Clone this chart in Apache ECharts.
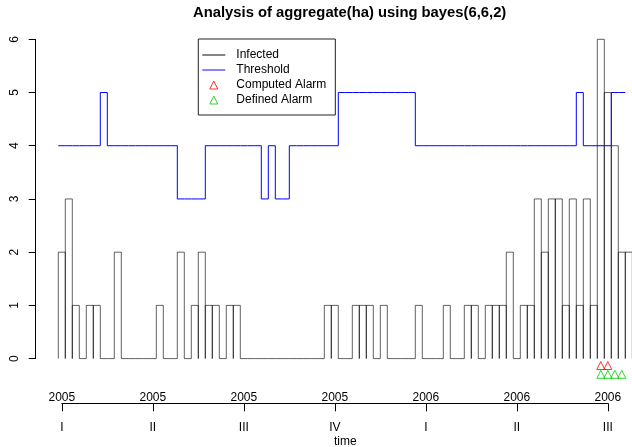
<!DOCTYPE html>
<html>
<head>
<meta charset="utf-8">
<script src="https://cdn.jsdelivr.net/npm/echarts@6/dist/echarts.min.js"></script>
<style>
html,body{margin:0;padding:0;background:#fff;}
#c{width:632px;height:447px;}
</style>
</head>
<body>
<div id="c"></div>
<script>
// ---- data ----
const infected = [2,3,1,0,1,1,0,0,2,0,
                  0,0,0,0,1,0,0,2,0,1,
                  2,1,1,0,1,1,0,0,0,0,
                  0,0,0,0,0,0,0,0,1,1,
                  0,0,1,1,1,0,1,0,0,0,
                  0,1,0,0,0,1,0,0,1,1,
                  0,1,1,1,2,0,1,1,3,2,
                  3,3,1,3,1,3,1,6,5,4,
                  2,2];
const threshold = [4,4,4,4,4,4,5,4,4,4,
                   4,4,4,4,4,4,4,3,3,3,
                   3,4,4,4,4,4,4,4,4,3,
                   4,3,3,4,4,4,4,4,4,4,
                   5,5,5,5,5,5,5,5,5,5,
                   5,4,4,4,4,4,4,4,4,4,
                   4,4,4,4,4,4,4,4,4,4,
                   4,4,4,4,5,4,4,4,4,5,
                   5,5];
const weeks = infected.map((_, k) => k + 1);
const computedAlarmWeeks = [78, 79];
const definedAlarmWeeks = [78, 79, 80, 81];
const computedAlarmLevel = -0.13;
const definedAlarmLevel = -0.295;
const tickWeeks = [1, 14, 27, 40, 53, 66, 79];
const tickYears = ['2005','2005','2005','2005','2006','2006','2006'];
const tickQuarters = ['I','II','III','IV','I','II','III'];
const yTicks = [0,1,2,3,4,5,6];

const FONT = '"Liberation Sans", Arial, Helvetica, sans-serif';
const chart = echarts.init(document.getElementById('c'), null, {renderer: 'canvas'});
const TRI = 'path://M0,1L0.5,0L1,1Z';
const LINE = 'path://M0,0H24V1H0Z';

const option = {
  animation: false,
  backgroundColor: '#ffffff',
  textStyle: {fontFamily: FONT, color: '#000'},
  title: {
    text: 'Analysis of aggregate(ha) using bayes(6,6,2)',
    left: 188, top: 0,
    textStyle: {fontSize: 14.8, fontWeight: 'bold', color: '#000', fontFamily: FONT}
  },
  legend: {
    orient: 'vertical',
    left: 198.3, top: 39,
    padding: [8.5, 9, 7.5, 4],
    itemGap: 0,
    itemWidth: 23, itemHeight: 8,
    borderColor: '#222', borderWidth: 1,
    selectedMode: false,
    textStyle: {fontSize: 12, color: '#000', lineHeight: 15, padding: [0,0,0,6], fontFamily: FONT},
    data: [
      {name: 'Infected', icon: LINE, itemStyle: {color: '#000', borderWidth: 0}},
      {name: 'Threshold', icon: LINE, itemStyle: {color: '#0000ff', borderWidth: 0}},
      {name: 'Computed Alarm', icon: TRI, itemStyle: {color: 'rgba(0,0,0,0)', borderColor: '#ff0000', borderWidth: 1}},
      {name: 'Defined Alarm', icon: TRI, itemStyle: {color: 'rgba(0,0,0,0)', borderColor: '#00cd00', borderWidth: 1}}
    ]
  },
  grid: [
    {left: 58.3, top: 39.3, width: 574, height: 319.3, containLabel: false, outerBoundsMode: 'none'},
    {left: 61.8, top: 402.3, width: 546, height: 1, containLabel: false, outerBoundsMode: 'none'},
    {left: 61.8, top: 402.3, width: 546, height: 1, containLabel: false, outerBoundsMode: 'none'}
  ],
  xAxis: [
    {gridIndex: 0, type: 'value', min: 0.5, max: 82.5,
     axisLine: {show: false}, axisTick: {show: false}, axisLabel: {show: false}, splitLine: {show: false},
     name: 'time', nameLocation: 'middle', nameGap: 77,
     nameTextStyle: {fontSize: 12, color: '#000', fontFamily: FONT}},
    {gridIndex: 1, type: 'value', min: tickWeeks[0], max: tickWeeks[tickWeeks.length-1], position: 'bottom',
     axisLine: {show: true, onZero: false, lineStyle: {color: '#000', width: 1}},
     axisTick: {show: true, inside: false, length: 8, customValues: tickWeeks, lineStyle: {color: '#000', width: 1}},
     axisLabel: {show: true, inside: true, margin: 0, customValues: tickWeeks, fontSize: 12, color: '#000', fontFamily: FONT,
       formatter: v => tickYears[tickWeeks.indexOf(v)]},
     splitLine: {show: false}},
    {gridIndex: 2, type: 'value', min: tickWeeks[0], max: tickWeeks[tickWeeks.length-1], position: 'bottom',
     axisLine: {show: false, onZero: false}, axisTick: {show: false},
     axisLabel: {show: true, margin: 18.5, customValues: tickWeeks, fontSize: 12, color: '#000', fontFamily: FONT,
       formatter: v => tickQuarters[tickWeeks.indexOf(v)]},
     splitLine: {show: false}}
  ],
  yAxis: [
    {gridIndex: 0, type: 'value', min: yTicks[0], max: yTicks[yTicks.length-1], interval: 1, offset: 22.6,
     axisLine: {show: true, onZero: false, lineStyle: {color: '#000', width: 1}},
     axisTick: {show: true, length: 7, lineStyle: {color: '#000', width: 1}},
     axisLabel: {show: true, rotate: 90, margin: 15, fontSize: 12, color: '#000', fontFamily: FONT},
     splitLine: {show: false}},
    {gridIndex: 1, type: 'value', show: false},
    {gridIndex: 2, type: 'value', show: false}
  ],
  series: [
    {
      name: 'Infected', type: 'custom', xAxisIndex: 0, yAxisIndex: 0, silent: true,
      data: infected.map((v, k) => [weeks[k], v]),
      renderItem: function (params, api) {
        const w = api.value(0), v = api.value(1);
        const pts = [api.coord([w - 0.5, 0]), api.coord([w - 0.5, v]), api.coord([w + 0.5, v]), api.coord([w + 0.5, 0])];
        return {type: 'polyline', shape: {points: pts}, style: {fill: null, stroke: 'rgba(0,0,0,0.62)', lineWidth: 1}};
      }
    },
    {
      name: 'Threshold', type: 'line', xAxisIndex: 0, yAxisIndex: 0, silent: true,
      step: 'end', symbol: 'none', showSymbol: false,
      data: threshold.map((u, k) => [weeks[k] - 0.5, u]),
      lineStyle: {color: '#0000ff', width: 1}, itemStyle: {color: '#0000ff'}
    },
    {
      name: 'Computed Alarm', type: 'scatter', xAxisIndex: 0, yAxisIndex: 0, silent: true, clip: false,
      symbol: TRI, symbolSize: 8, symbolKeepAspect: true,
      data: computedAlarmWeeks.map(w => [w, computedAlarmLevel]),
      itemStyle: {color: 'rgba(0,0,0,0)', borderColor: '#ff0000', borderWidth: 1}
    },
    {
      name: 'Defined Alarm', type: 'scatter', xAxisIndex: 0, yAxisIndex: 0, silent: true, clip: false,
      symbol: TRI, symbolSize: 8, symbolKeepAspect: true,
      data: definedAlarmWeeks.map(w => [w, definedAlarmLevel]),
      itemStyle: {color: 'rgba(0,0,0,0)', borderColor: '#00cd00', borderWidth: 1}
    }
  ]
};
chart.setOption(option);
</script>
</body>
</html>
